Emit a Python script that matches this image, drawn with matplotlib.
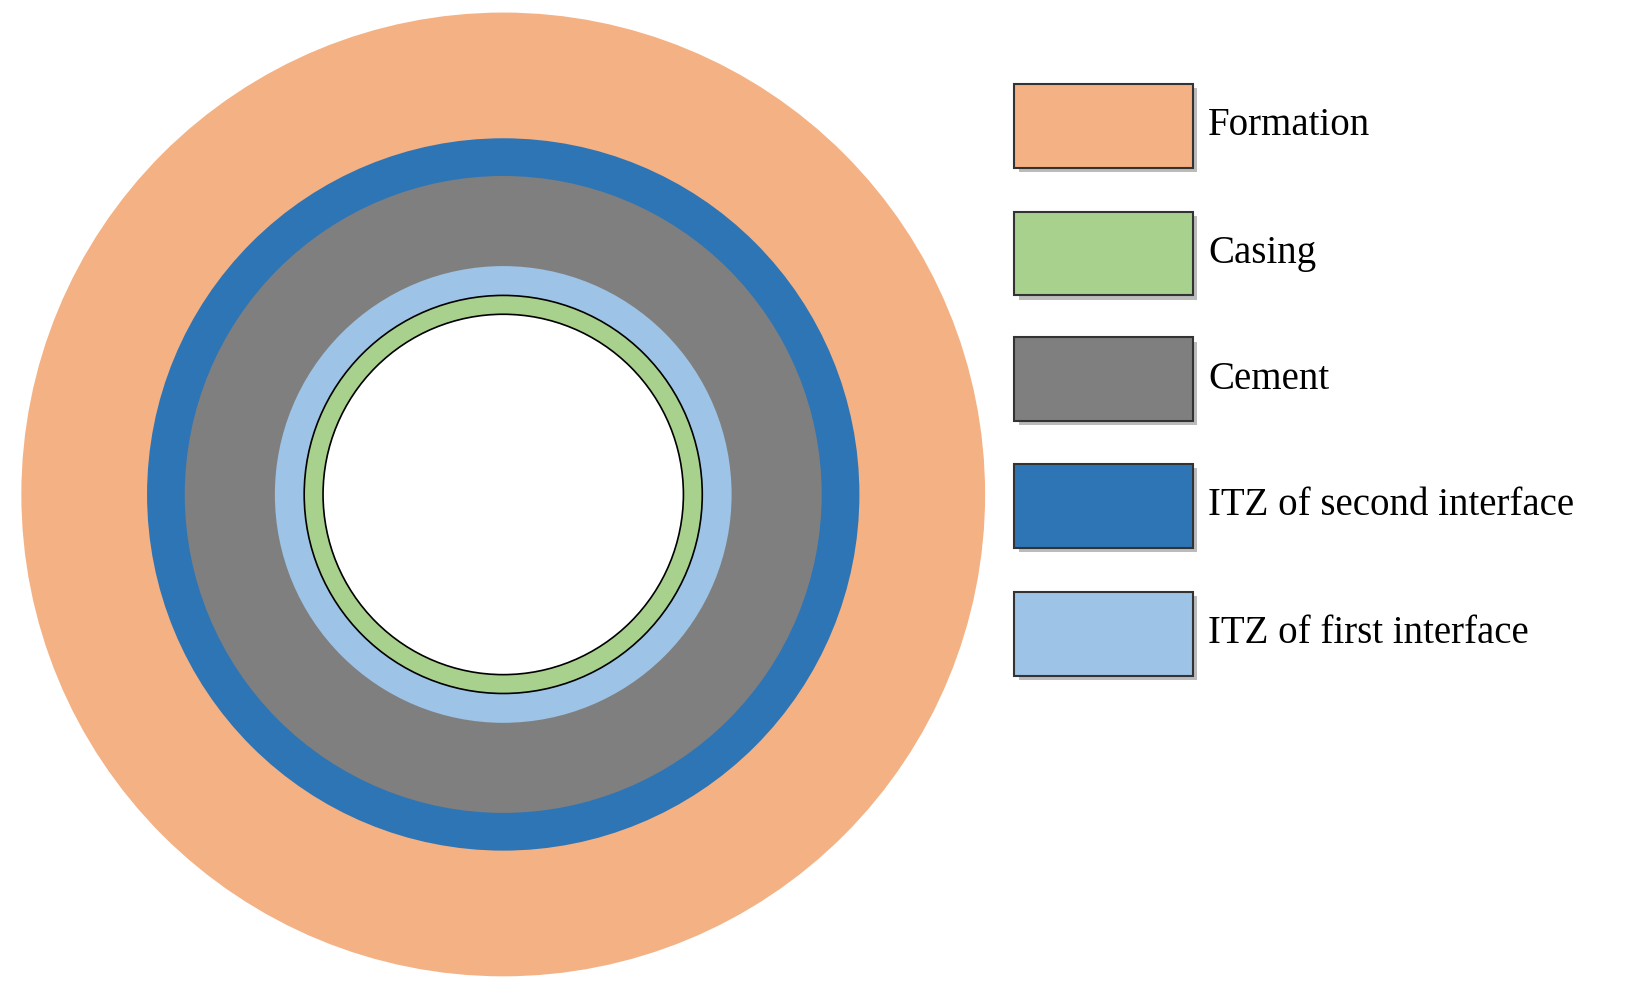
import matplotlib.pyplot as plt
from matplotlib.patches import Circle, Rectangle

# layers from outside to inside (radius in display pixels)
layer_names = ["Formation", "ITZ of second interface", "Cement", "ITZ of first interface", "Casing", "Bore"]
layer_radii = [460, 340, 304, 218, 190, 172]
layer_colors = ["#F4B183", "#2E75B6", "#7F7F7F", "#9DC3E6", "#A9D18E", "#FFFFFF"]

legend_labels = ["Formation", "Casing", "Cement", "ITZ of second interface", "ITZ of first interface"]
legend_colors = ["#F4B183", "#A9D18E", "#7F7F7F", "#2E75B6", "#9DC3E6"]
legend_tops = [80, 202, 322, 443, 565]

W, H = 1560, 946
fig = plt.figure(figsize=(16.35, 9.91), dpi=100)
ax = fig.add_axes([0, 0, 1, 1])
ax.set_xlim(0, W)
ax.set_ylim(H, 0)
ax.set_aspect("equal")
ax.axis("off")

cx, cy = 480, 472
for name, r, c in zip(layer_names, layer_radii, layer_colors):
    edge = "black" if name in ("Casing", "Bore") else "none"
    ax.add_patch(Circle((cx, cy), r, facecolor=c, edgecolor=edge, lw=1.2))

for lab, c, top in zip(legend_labels, legend_colors, legend_tops):
    ax.add_patch(Rectangle((972, top + 4), 170, 80, facecolor="#bbbbbb", edgecolor="none"))
    ax.add_patch(Rectangle((968, top), 170, 80, facecolor=c, edgecolor="#333333", lw=1.5))
    ax.text(1153, top + 40, lab, fontsize=28, family="Liberation Serif", va="center", ha="left")

fig.savefig("out.png")
